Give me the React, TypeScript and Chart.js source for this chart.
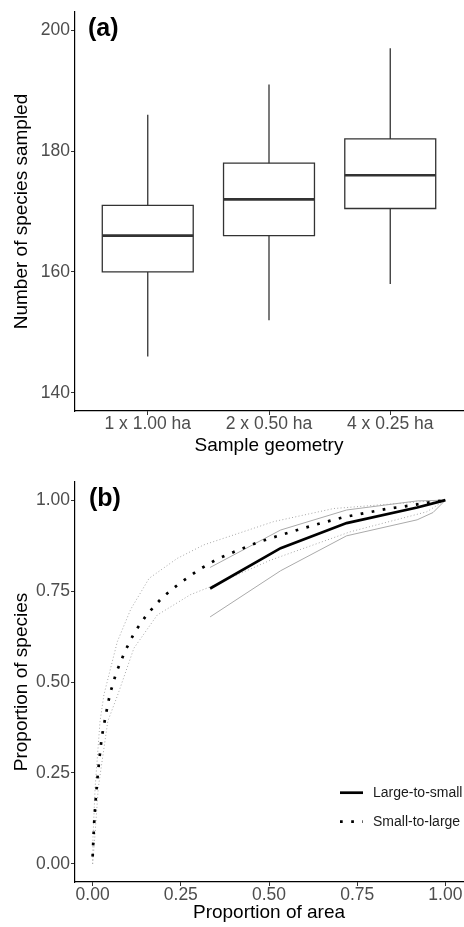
import React, { useEffect, useRef } from "react";
import { Chart, registerables } from "chart.js";

Chart.register(...registerables);

// ---------- Panel (a): box plot ----------
const categories = ["1 x 1.00 ha", "2 x 0.50 ha", "4 x 0.25 ha"];
const whiskerLow = [146, 152, 158];
const q1 = [160, 166, 170.5];
const medians = [166, 172, 176];
const q3 = [171, 178, 182];
const whiskerHigh = [186, 191, 197];
const yTicksA = [140, 160, 180, 200];

// ---------- Panel (b): accumulation curves ----------
const areaTicks = [0, 0.25, 0.5, 0.75, 1];
const speciesTicks = [0, 0.25, 0.5, 0.75, 1];
const seriesLabels = ["Large-to-small", "Small-to-large"];

const ltsX = [0.333, 0.533, 0.72, 0.92, 1];
const ltsMean = [0.757, 0.868, 0.937, 0.98, 1];
const ltsUpper = [0.815, 0.918, 0.973, 0.998, 1];
const ltsLowerX = [0.333, 0.533, 0.72, 0.92, 0.965, 1];
const ltsLower = [0.679, 0.806, 0.902, 0.946, 0.966, 1];

const stlX = [0, 0.004, 0.008, 0.013, 0.019, 0.026, 0.037, 0.049, 0.067, 0.091, 0.119, 0.155, 0.198, 0.246, 0.3, 0.353, 0.411, 0.471, 0.53, 0.591, 0.652, 0.711, 0.773, 0.834, 0.898, 0.962, 1];
const stlMean = [0.02, 0.108, 0.168, 0.229, 0.288, 0.349, 0.408, 0.467, 0.526, 0.583, 0.637, 0.687, 0.733, 0.771, 0.808, 0.838, 0.862, 0.885, 0.903, 0.921, 0.938, 0.953, 0.965, 0.976, 0.985, 0.995, 1];
const stlUpperX = [0, 0.001, 0.007, 0.021, 0.032, 0.07, 0.108, 0.16, 0.24, 0.315, 0.513, 0.683, 0.919, 1];
const stlUpper = [0, 0.071, 0.209, 0.392, 0.465, 0.611, 0.7, 0.785, 0.84, 0.877, 0.941, 0.977, 0.995, 1];
const stlLowerX = [0, 0.006, 0.016, 0.043, 0.072, 0.117, 0.183, 0.277, 0.334, 0.504, 0.73, 0.947, 1];
const stlLower = [0, 0.071, 0.209, 0.392, 0.467, 0.593, 0.684, 0.74, 0.762, 0.835, 0.913, 0.968, 1];

const FONT = "'Liberation Sans', Arial, Helvetica, sans-serif";
Chart.defaults.font.family = FONT;

const pts = (xs: number[], ys: number[]) => xs.map((x, i) => ({ x, y: ys[i] }));

const panelLabel = (text: string, x: number, y: number) => ({
  id: "panelLabel" + text,
  afterDraw(chart: any) {
    const ctx = chart.ctx;
    ctx.save();
    ctx.font = `bold 25px ${FONT}`;
    ctx.fillStyle = "#000";
    ctx.textAlign = "left";
    ctx.textBaseline = "middle";
    ctx.fillText(text, x, y);
    ctx.restore();
  },
});

const legendPlugin = {
  id: "curveLegend",
  afterDraw(chart: any) {
    const ctx = chart.ctx;
    const rows = [327.7, 356.7];
    seriesLabels.forEach((label, i) => {
      const ds: any = chart.data.datasets[i];
      const y = rows[i];
      ctx.save();
      ctx.strokeStyle = ds.borderColor;
      ctx.lineWidth = ds.borderWidth;
      ctx.setLineDash(ds.borderDash || []);
      ctx.beginPath();
      ctx.moveTo(340, y);
      ctx.lineTo(363, y);
      ctx.stroke();
      ctx.setLineDash([]);
      ctx.font = `14px ${FONT}`;
      ctx.fillStyle = "#1a1a1a";
      ctx.textAlign = "left";
      ctx.textBaseline = "middle";
      ctx.fillText(label, 373, y);
      ctx.restore();
    });
  },
};

function axisCommon() {
  return {
    grid: { drawOnChartArea: false, drawTicks: true, tickLength: 4, color: "#333", lineWidth: 1 },
    border: { display: true, color: "#000", width: 1.2 },
  };
}

function BoxPanel() {
  const ref = useRef<HTMLCanvasElement | null>(null);
  useEffect(() => {
    if (!ref.current) return;
    const hw = 0.375;
    const lineStyle = { showLine: true, pointRadius: 0, borderColor: "#333", borderWidth: 1.3, fill: false, tension: 0 };
    const datasets: any[] = [];
    categories.forEach((_, i) => {
      const c = i + 1;
      datasets.push({
        ...lineStyle,
        borderWidth: 2.7,
        data: [{ x: c - hw, y: medians[i] }, { x: c + hw, y: medians[i] }],
      });
      datasets.push({
        ...lineStyle,
        borderCapStyle: "square",
        data: [
          { x: c - hw, y: q1[i] },
          { x: c + hw, y: q1[i] },
          { x: c + hw, y: q3[i] },
          { x: c - hw, y: q3[i] },
          { x: c - hw, y: q1[i] },
        ],
      });
      datasets.push({ ...lineStyle, data: [{ x: c, y: q3[i] }, { x: c, y: whiskerHigh[i] }] });
      datasets.push({ ...lineStyle, data: [{ x: c, y: whiskerLow[i] }, { x: c, y: q1[i] }] });
    });
    const chart = new Chart(ref.current, {
      type: "scatter",
      data: { datasets },
      options: {
        animation: false,
        responsive: false,
        events: [],
        layout: { padding: { top: 12, right: 1, left: 0, bottom: 0 } },
        plugins: { legend: { display: false }, tooltip: { enabled: false } },
        scales: {
          x: {
            type: "linear",
            min: 0.4,
            max: 3.6,
            afterBuildTicks: (s: any) => {
              s.ticks = categories.map((_, i) => ({ value: i + 1 }));
            },
            afterFit: (s: any) => {
              s.height = 54;
            },
            ticks: {
              callback: (v: any) => categories[Math.round(Number(v)) - 1],
              font: { size: 17.5, lineHeight: 1 },
              color: "#4d4d4d",
              padding: 0,
              maxRotation: 0,
              autoSkip: false,
            },
            ...axisCommon(),
            title: { display: true, text: "Sample geometry", font: { size: 19 }, color: "#000", padding: { top: 0, bottom: 8 } },
          },
          y: {
            type: "linear",
            min: 137,
            max: 203,
            afterBuildTicks: (s: any) => {
              s.ticks = yTicksA.map((v) => ({ value: v }));
            },
            afterFit: (s: any) => {
              s.width = 75;
            },
            ticks: { font: { size: 17.5, lineHeight: 1 }, color: "#4d4d4d", padding: 1 },
            ...axisCommon(),
            title: { display: true, text: "Number of species sampled", font: { size: 19 }, color: "#000", padding: { top: 10, bottom: 0 } },
          },
        },
      } as any,
      plugins: [panelLabel("(a)", 88, 29)],
    });
    return () => chart.destroy();
  }, []);
  return <canvas ref={ref} width={464} height={465} style={{ display: "block", width: 464, height: 465 }} />;
}

function CurvePanel() {
  const ref = useRef<HTMLCanvasElement | null>(null);
  useEffect(() => {
    if (!ref.current) return;
    const base = { showLine: true, pointRadius: 0, fill: false, tension: 0 };
    const datasets: any[] = [
      { ...base, label: seriesLabels[0], data: pts(ltsX, ltsMean), borderColor: "#000", borderWidth: 2.7 },
      { ...base, label: seriesLabels[1], data: pts(stlX, stlMean), borderColor: "#000", borderWidth: 2.7, borderDash: [2.7, 8.5] },
      { ...base, data: pts(ltsX, ltsUpper), borderColor: "#aaaaaa", borderWidth: 1 },
      { ...base, data: pts(ltsLowerX, ltsLower), borderColor: "#aaaaaa", borderWidth: 1 },
      { ...base, data: pts(stlUpperX, stlUpper), borderColor: "#a6a6a6", borderWidth: 1, borderDash: [1, 2.3] },
      { ...base, data: pts(stlLowerX, stlLower), borderColor: "#a6a6a6", borderWidth: 1, borderDash: [1, 2.3] },
    ];
    const chart = new Chart(ref.current, {
      type: "scatter",
      data: { datasets },
      options: {
        animation: false,
        responsive: false,
        events: [],
        layout: { padding: { top: 17, right: 1, left: 0, bottom: 0 } },
        plugins: { legend: { display: false }, tooltip: { enabled: false } },
        scales: {
          x: {
            type: "linear",
            min: -0.05,
            max: 1.05,
            afterBuildTicks: (s: any) => {
              s.ticks = areaTicks.map((v) => ({ value: v }));
            },
            afterFit: (s: any) => {
              s.height = 45;
            },
            ticks: {
              callback: (v: any) => Number(v).toFixed(2),
              font: { size: 17.5, lineHeight: 1 },
              color: "#4d4d4d",
              padding: 0,
              maxRotation: 0,
              autoSkip: false,
            },
            ...axisCommon(),
            title: { display: true, text: "Proportion of area", font: { size: 19 }, color: "#000", padding: { top: 0, bottom: 3 } },
          },
          y: {
            type: "linear",
            min: -0.05,
            max: 1.05,
            afterBuildTicks: (s: any) => {
              s.ticks = speciesTicks.map((v) => ({ value: v }));
            },
            afterFit: (s: any) => {
              s.width = 75;
            },
            ticks: { callback: (v: any) => Number(v).toFixed(2), font: { size: 17.5, lineHeight: 1 }, color: "#4d4d4d", padding: 1 },
            ...axisCommon(),
            title: { display: true, text: "Proportion of species", font: { size: 19 }, color: "#000", padding: { top: 10, bottom: 0 } },
          },
        },
      } as any,
      plugins: [panelLabel("(b)", 89, 34), legendPlugin],
    });
    return () => chart.destroy();
  }, []);
  return <canvas ref={ref} width={464} height={462} style={{ display: "block", width: 464, height: 462 }} />;
}

export default function App() {
  return (
    <div style={{ position: "absolute", left: 0, top: 0, width: 464, height: 927, background: "#fff" }}>
      <BoxPanel />
      <CurvePanel />
    </div>
  );
}
